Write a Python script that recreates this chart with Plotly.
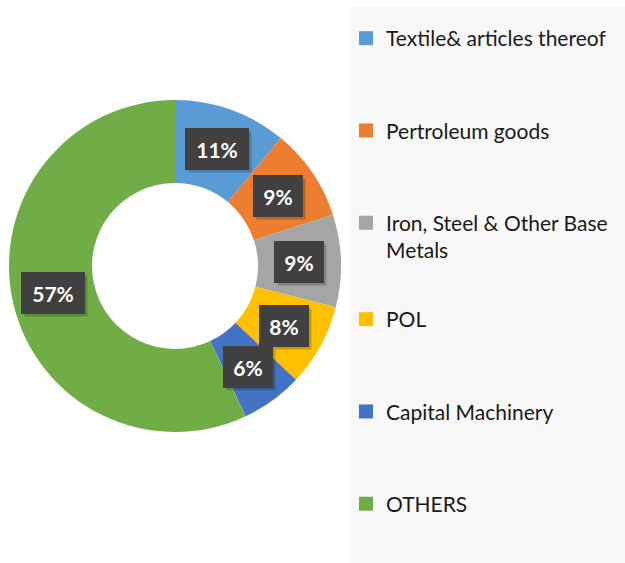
import math

import plotly.graph_objects as go

categorias = [
    'Textile& articles thereof',
    'Pertroleum goods',
    'Iron, Steel & Other Base Metals',
    'POL',
    'Capital Machinery',
    'OTHERS',
]
nombres_leyenda = [
    'Textile& articles thereof',
    'Pertroleum goods',
    'Iron, Steel & Other Base<br>Metals',
    'POL',
    'Capital Machinery',
    'OTHERS',
]
participacion = [11, 9, 9, 8, 6, 57]
colores = ['#5B9BD5', '#ED7D31', '#A5A5A5', '#FFC000', '#4472C4', '#70AD47']

ANCHO, ALTO = 625, 563
CX, CY, RADIO = 175, 266, 166   # centro y radio de la dona, en px
HUECO = 0.5
FUENTE = 'Lato'
TAM_LEYENDA = 21

fig = go.Figure()
fig.add_trace(go.Pie(
    labels=categorias,
    values=participacion,
    sort=False,
    direction='clockwise',
    rotation=0,
    hole=HUECO,
    textinfo='none',
    hoverinfo='label+percent',
    showlegend=False,
    marker=dict(colors=colores, line=dict(width=0)),
    domain=dict(
        x=[(CX - RADIO) / ANCHO, (CX + RADIO) / ANCHO],
        y=[(ALTO - CY - RADIO) / ALTO, (ALTO - CY + RADIO) / ALTO],
    ),
))

# entradas de leyenda: tres en cada leyenda, grupos separados para el espaciado
for i, (nombre, color) in enumerate(zip(nombres_leyenda, colores)):
    fig.add_trace(go.Scatter(
        x=[None], y=[None],
        mode='markers',
        name=nombre,
        legendgroup=nombre,
        legend='legend' if i < 3 else 'legend2',
        marker=dict(symbol='square', size=14, color=color),
        hoverinfo='skip',
    ))

# etiquetas de porcentaje en cajas oscuras, al centro de cada rebanada
total = sum(participacion)
r_txt = RADIO * (1 + HUECO) / 2
acum = 0
anotaciones = []
for v in participacion:
    ang = 2 * math.pi * (acum + v / 2) / total
    acum += v
    px = CX + r_txt * math.sin(ang)
    py = (ALTO - CY) + r_txt * math.cos(ang)
    pct = f'{round(100 * v / total)}%'
    base = dict(x=px / ANCHO, y=py / ALTO, xref='paper', yref='paper',
                xanchor='center', yanchor='middle',
                showarrow=False, borderpad=9, borderwidth=1,
                width=14 * len(pct) + 2, height=22)
    # sombra
    anotaciones.append(dict(base, text=' ', xshift=3, yshift=-3,
                            bgcolor='rgba(0,0,0,0.2)',
                            bordercolor='rgba(0,0,0,0)'))
    anotaciones.append(dict(base, text=f'<b>{pct}</b>', bgcolor='#404040',
                            bordercolor='#404040',
                            font=dict(family=FUENTE, size=21, color='white')))

estilo_leyenda = dict(
    x=346 / ANCHO,
    xanchor='left', yanchor='top',
    bgcolor='rgba(0,0,0,0)',
    font=dict(family=FUENTE, size=TAM_LEYENDA, color='#1a1a1a'),
    tracegroupgap=62,
    valign='top',
    itemclick=False,
)

fig.update_layout(
    width=ANCHO,
    height=ALTO,
    margin=dict(l=0, r=0, t=0, b=0),
    paper_bgcolor='white',
    plot_bgcolor='white',
    font=dict(family=FUENTE, color='#1a1a1a'),
    xaxis=dict(visible=False),
    yaxis=dict(visible=False),
    annotations=anotaciones,
    shapes=[dict(type='rect', xref='paper', yref='paper',
                 x0=350 / ANCHO, x1=1, y0=0, y1=(ALTO - 6) / ALTO,
                 fillcolor='#F8F8F8', line=dict(width=0), layer='below')],
    legend=dict(estilo_leyenda, y=(ALTO - 18) / ALTO),
    legend2=dict(estilo_leyenda, y=(ALTO - 299) / ALTO),
)

fig.write_html('out.html', config={'displayModeBar': False},
               post_script="document.body.style.margin='0';")
